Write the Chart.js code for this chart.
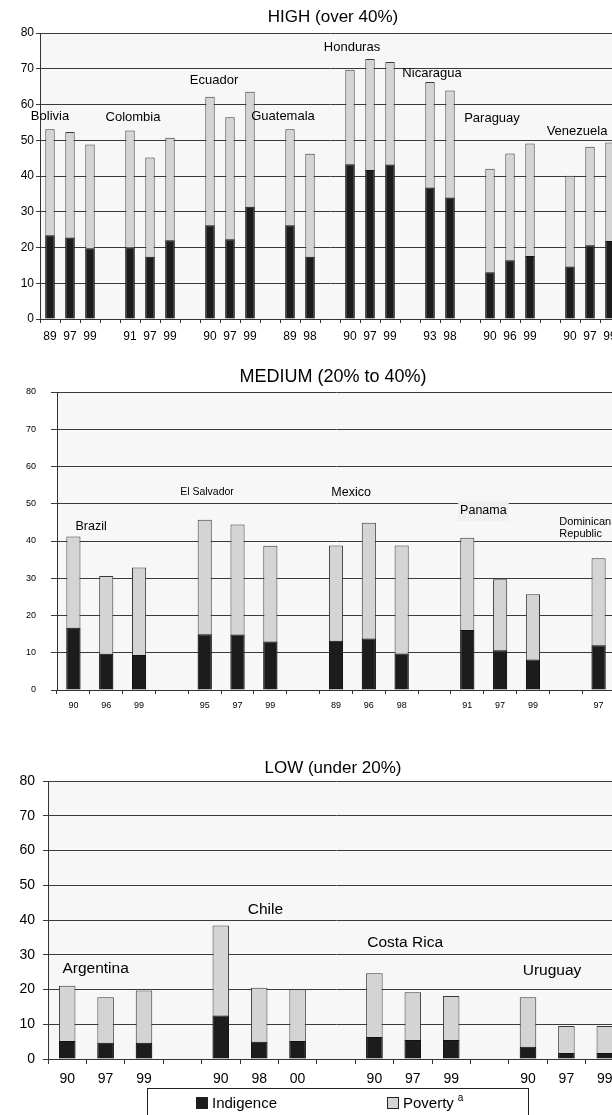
<!DOCTYPE html>
<html>
<head>
<meta charset="utf-8">
<script src="https://cdn.jsdelivr.net/npm/chart.js@4.4.1/dist/chart.umd.min.js"></script>
<style>
  html, body { margin: 0; padding: 0; background: #fff; overflow: hidden; width: 612px; height: 1115px; }
  canvas { position: absolute; left: 0; }
</style>
</head>
<body>
<canvas id="high" width="640" height="350" style="top:0px"></canvas>
<canvas id="medium" width="640" height="370" style="top:350px"></canvas>
<canvas id="low" width="640" height="395" style="top:720px"></canvas>
<script>
// HIGH (over 40%)
const highCountries = ['Bolivia', 'Colombia', 'Ecuador', 'Guatemala', 'Honduras', 'Nicaragua', 'Paraguay', 'Venezuela'];
const highYears = [['89', '97', '99'], ['91', '97', '99'], ['90', '97', '99'], ['89', '98'], ['90', '97', '99'], ['93', '98'], ['90', '96', '99'], ['90', '97', '99']];
const highIndigence = [[23.4, 22.8, 19.8], [20.1, 17.4, 22.0], [26.2, 22.3, 31.4], [26.2, 17.4], [43.3, 41.7, 43.2], [36.8, 34.0], [13.1, 16.4, 17.6], [14.7, 20.6, 21.8]];
const highPoverty = [[53.1, 52.3, 48.8], [52.7, 45.2, 50.7], [62.2, 56.4, 63.6], [53.1, 46.2], [69.7, 72.7, 71.9], [66.3, 63.9], [42.0, 46.3, 49.1], [40.1, 48.2, 49.4]];

// MEDIUM (20% to 40%)
const mediumCountries = ['Brazil', 'El Salvador', 'Mexico', 'Panama', 'Dominican Republic'];
const mediumYears = [['90', '96', '99'], ['95', '97', '99'], ['89', '96', '98'], ['91', '97', '99'], ['97']];
const mediumIndigence = [[16.7, 9.7, 9.4], [15.0, 14.9, 13.0], [13.2, 13.8, 9.8], [16.1, 10.7, 8.2], [12.0]];
const mediumPoverty = [[41.2, 30.6, 32.9], [45.7, 44.4, 38.7], [38.8, 44.9, 38.8], [40.9, 29.7, 25.7], [35.4]];

// LOW (under 20%)
const lowCountries = ['Argentina', 'Chile', 'Costa Rica', 'Uruguay'];
const lowYears = [['90', '97', '99'], ['90', '98', '00'], ['90', '97', '99'], ['90', '97', '99']];
const lowIndigence = [[5.2, 4.7, 4.7], [12.5, 5.0, 5.2], [6.3, 5.5, 5.5], [3.5, 1.7, 1.7]];
const lowPoverty = [[21.1, 17.8, 19.7], [38.4, 20.5, 20.1], [24.7, 19.2, 18.1], [17.8, 9.5, 9.5]];

const seriesNames = ['Indigence', 'Poverty'];
const legendNote = 'a';

const FONT = '"Liberation Sans", Arial, sans-serif';

// where the country names sit: [category position, value]
const highLabelPos = [[0.0, 56.8], [4.15, 56.3], [8.2, 66.6], [11.65, 56.8], [15.1, 75.9], [19.1, 68.6], [22.1, 56.0], [26.35, 52.6]];
const mediumLabelPos = [[0.54, 43.8], [4.07, 53.2], [8.46, 53.1], [12.49, 48.1], [14.8, 45.2]];
const lowLabelPos = [[0.74, 26.0], [5.16, 42.9], [8.8, 33.6], [12.625, 25.4]];

const panels = [
  { canvas: 'high', top: 0, title: 'HIGH (over 40%)', titleSize: 17, titleY: 17,
    countries: highCountries, years: highYears, ind: highIndigence, pov: highPoverty,
    labelPos: highLabelPos, labelSize: 13, labelStyle: [],
    plotTop: 33, plotLeft: 40, plotRight: 620, axisH: 31, barPct: 0.47,
    tickSize: 12, xTick: 4, xPad: 6, yTick: 4, yPad: 2 },
  { canvas: 'medium', top: 350, title: 'MEDIUM (20% to 40%)', titleSize: 18, titleY: 377,
    countries: mediumCountries, years: mediumYears, ind: mediumIndigence, pov: mediumPoverty,
    labelPos: mediumLabelPos, labelSize: 12.5,
    labelStyle: [{}, { size: 10.5 }, {}, { box: '#efefef' }, { size: 11, align: 'left', wrap: true }],
    plotTop: 42, plotLeft: 57, plotRight: 615, axisH: 30, barPct: 0.43,
    tickSize: 9, xTick: 4, xPad: 6, yTick: 6, yPad: 15 },
  { canvas: 'low', top: 720, title: 'LOW (under 20%)', titleSize: 17, titleY: 768,
    countries: lowCountries, years: lowYears, ind: lowIndigence, pov: lowPoverty,
    labelPos: lowLabelPos, labelSize: 15.5, labelStyle: [],
    plotTop: 61, plotLeft: 48, plotRight: 624, axisH: 56, barPct: 0.43,
    tickSize: 14, xTick: 5, xPad: 7, yTick: 5, yPad: 8, legend: true }
];

function buildRows(years, ind, pov) {
  const labels = [], a = [], b = [];
  years.forEach((ys, g) => {
    if (g > 0) { labels.push(''); a.push(null); b.push(null); }
    ys.forEach((yr, i) => { labels.push(yr); a.push(ind[g][i]); b.push(pov[g][i]); });
  });
  return { labels, a, b };
}

function decor(p) {
  return {
    id: 'decor',
    beforeDraw(chart) {
      const { ctx, chartArea: a } = chart;
      ctx.save();
      ctx.fillStyle = '#f7f7f7';
      ctx.fillRect(a.left, a.top, a.right - a.left, a.bottom - a.top);
      ctx.restore();
    },
    afterDatasetsDraw(chart) {
      const { ctx, scales: { x, y } } = chart;
      ctx.save();
      ctx.textBaseline = 'middle';
      p.countries.forEach((name, i) => {
        const st = p.labelStyle[i] || {};
        const size = st.size || p.labelSize;
        const px = x.getPixelForValue(p.labelPos[i][0]);
        const py = y.getPixelForValue(p.labelPos[i][1]);
        ctx.font = size + 'px ' + FONT;
        ctx.textAlign = st.align || 'center';
        if (st.box) {
          const w = ctx.measureText(name).width;
          ctx.fillStyle = st.box;
          ctx.fillRect(px - w / 2 - 2, py - 10, w + 4, 20);
        }
        ctx.fillStyle = '#000';
        const lines = st.wrap ? name.split(' ') : [name];
        lines.forEach((ln, k) => ctx.fillText(ln, px, py + k * size * 1.12));
      });
      ctx.restore();
    },
    afterDraw(chart) {
      const ctx = chart.ctx;
      ctx.save();
      ctx.fillStyle = '#000';
      ctx.textAlign = 'center';
      ctx.textBaseline = 'middle';
      ctx.font = p.titleSize + 'px ' + FONT;
      ctx.fillText(p.title, 333, p.titleY - p.top);
      if (p.legend) {
        const ly = 1088 - p.top;
        ctx.fillStyle = '#fff';
        ctx.fillRect(147, ly, 382, 40);
        ctx.strokeStyle = '#222';
        ctx.lineWidth = 1;
        ctx.strokeRect(147.5, ly + 0.5, 381, 40);
        const items = chart.data.datasets;
        const xs = [196, 387];
        ctx.textAlign = 'left';
        items.forEach((ds, i) => {
          ctx.fillStyle = ds.backgroundColor;
          ctx.fillRect(xs[i], ly + 9, 12, 12);
          ctx.strokeStyle = '#222';
          ctx.strokeRect(xs[i] + 0.5, ly + 9.5, 11, 11);
          ctx.fillStyle = '#000';
          ctx.font = '15px ' + FONT;
          ctx.fillText(ds.label, xs[i] + 16, ly + 15.5);
          if (i === 1) {
            const w = ctx.measureText(ds.label).width;
            ctx.font = '10px ' + FONT;
            ctx.fillText(legendNote, xs[i] + 16 + w + 4, ly + 10);
          }
        });
      }
      ctx.restore();
    }
  };
}

panels.forEach(p => {
  const rows = buildRows(p.years, p.ind, p.pov);
  const tickFont = { family: FONT, size: p.tickSize };
  new Chart(document.getElementById(p.canvas), {
    type: 'bar',
    data: {
      labels: rows.labels,
      datasets: [
        { label: seriesNames[0], data: rows.a, backgroundColor: '#1c1c1c', borderColor: '#111',
          borderWidth: 1, grouped: false, categoryPercentage: 1, barPercentage: p.barPct },
        { label: seriesNames[1], data: rows.b, backgroundColor: '#d4d4d4', borderColor: '#3a3a3a',
          borderWidth: 1, grouped: false, categoryPercentage: 1, barPercentage: p.barPct }
      ]
    },
    options: {
      responsive: false,
      animation: false,
      layout: { padding: { top: p.plotTop, right: 640 - p.plotRight, left: 0, bottom: 0 } },
      plugins: { legend: { display: false }, tooltip: { enabled: false } },
      scales: {
        x: {
          grid: { drawOnChartArea: false, tickLength: p.xTick, color: '#333' },
          border: { color: '#333' },
          ticks: { autoSkip: false, maxRotation: 0, padding: p.xPad, color: '#000', font: tickFont },
          afterFit: s => { s.height = p.axisH; }
        },
        y: {
          min: 0, max: 80,
          grid: { color: '#3a3a3a', tickLength: p.yTick },
          border: { color: '#333' },
          ticks: { stepSize: 10, padding: p.yPad, color: '#000', font: tickFont },
          afterFit: s => { s.width = p.plotLeft; }
        }
      }
    },
    plugins: [decor(p)]
  });
});
</script>
</body>
</html>
